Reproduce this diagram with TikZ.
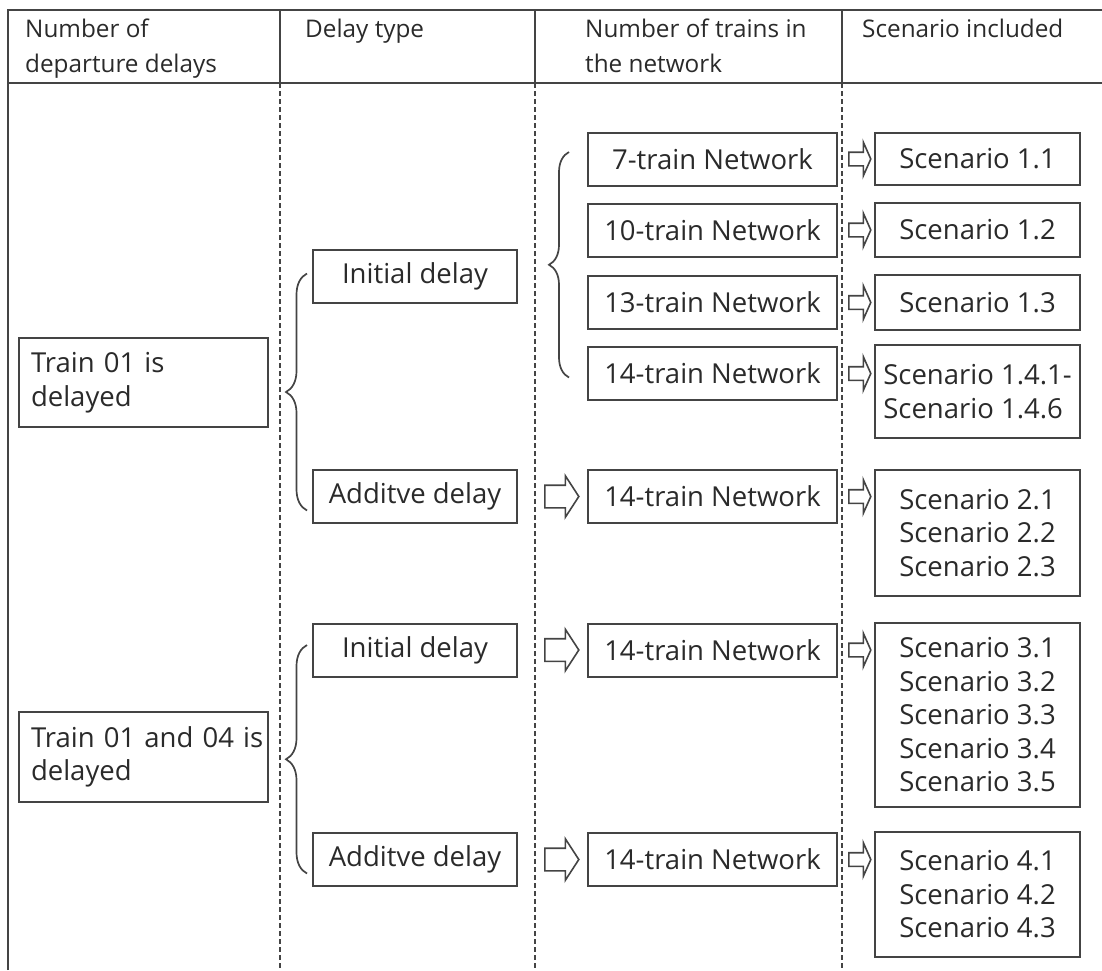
\documentclass[tikz,border=0pt]{standalone}
\usepackage{fontspec}
\setmainfont{Open Sans}
\usetikzlibrary{positioning,calc,decorations.pathreplacing,shapes.arrows}

\definecolor{inkgray}{HTML}{2A2A2A}
\definecolor{linegray}{HTML}{444444}

\newcommand{\bodyfont}{\fontsize{27.5}{33.5}\selectfont}
\newcommand{\headfont}{\fontsize{24.3}{35}\selectfont}

\tikzset{
    rule/.style={linegray, line width=2pt},
    dashrule/.style={linegray, line width=2.8pt, dash pattern=on 5pt off 3pt},
    cell/.style={draw=linegray, line width=2pt, text=inkgray, font=\bodyfont,
        inner sep=0pt, minimum height=53pt},
    delaybox/.style={cell, minimum width=204pt},
    netbox/.style={cell, minimum width=249pt},
    scenbox/.style={cell, minimum width=205pt, align=left},
    trainbox/.style={cell, minimum width=249pt, inner xsep=12pt, text width=225pt, align=left},
    headtext/.style={anchor=north west, align=left, font=\headfont, text=inkgray, inner sep=0pt},
    curly/.style={draw=linegray, line width=1.7pt, decorate,
        decoration={brace, amplitude=#1}},
    bigarrow/.style={single arrow, draw=linegray, line width=1.6pt, fill=white,
        inner sep=10.5pt, single arrow head extend=9.5pt, single arrow tip angle=114,
        minimum height=34pt},
    smallarrow/.style={single arrow, draw=linegray, line width=1.6pt, fill=white,
        inner sep=6pt, single arrow head extend=10pt, single arrow tip angle=132,
        minimum height=22pt}
}

\begin{document}
\begin{tikzpicture}[x=1pt, y=-1pt]

    \useasboundingbox (0,0) rectangle (1102,970);

    % Table frame
    \draw[rule] (8,970) -- (8,10) -- (1102,10);
    \draw[rule] (8,83) -- (1102,83);
    \foreach \x in {280,535,842} {
        \draw[rule] (\x,10) -- (\x,83);
        \draw[dashrule] (\x,83) -- (\x,970);
    }

    % Header
    \node[headtext] (hdep) at (25,19) {Number of\\departure delays};
    \node[headtext] (htype) at (305,19) {Delay type};
    \node[headtext] (hnet) at (585,19) {Number of trains in\\the network};
    \node[headtext] (hscen) at (862,19) {Scenario included};

    % Departure delays
    \node[trainbox, minimum height=89pt] (train1) at (143.5,382.5) {Train 01 is\\delayed};
    \node[trainbox, minimum height=90pt] (train14) at (143.5,757) {\mbox{Train 01 and 04 is}\\delayed};

    % Delay types
    \node[delaybox] (init1) at (415,276.5) {Initial delay};
    \node[delaybox] (add1) at (415,496.5) {Additve delay};
    \node[delaybox] (init2) at (415,650) {Initial delay};
    \node[delaybox] (add2) at (415,859.5) {Additve delay};

    % Networks
    \node[netbox] (net7) at (712.5,159) {7-train Network};
    \node[netbox] (net10) at (712.5,230) {10-train Network};
    \node[netbox] (net13) at (712.5,302.5) {13-train Network};
    \node[netbox] (net14a) at (712.5,373.5) {14-train Network};
    \node[netbox] (net14b) at (712.5,496.5) {14-train Network};
    \node[netbox] (net14c) at (712.5,650) {14-train Network};
    \node[netbox] (net14d) at (712.5,859.5) {14-train Network};

    % Scenarios
    \node[scenbox, minimum height=52pt] (sc11) at (977.5,159) {Scenario 1.1};
    \node[scenbox, minimum height=54pt] (sc12) at (977.5,230) {Scenario 1.2};
    \node[scenbox, minimum height=55pt] (sc13) at (977.5,302.5) {Scenario 1.3};
    \node[scenbox, minimum height=93pt] (sc14) at (977.5,391.5) {Scenario 1.4.1-\\Scenario 1.4.6};
    \node[scenbox, minimum height=126pt] (sc2) at (977.5,533) {Scenario 2.1\\Scenario 2.2\\Scenario 2.3};
    \node[scenbox, minimum height=184pt] (sc3) at (977.5,715) {Scenario 3.1\\Scenario 3.2\\Scenario 3.3\\Scenario 3.4\\Scenario 3.5};
    \node[scenbox, minimum height=125pt] (sc4) at (977.5,894.5) {Scenario 4.1\\Scenario 4.2\\Scenario 4.3};

    % Braces
    \draw[curly=21pt] ($(add1.west)+(-5,14)$) -- ($(init1.west)+(-5,-3)$);
    \draw[curly=21pt] ($(add2.west)+(-5,14)$) -- ($(init2.west)+(-5,-5)$);
    \draw[curly=20pt] ($(net14a.west)+(-18,4)$) -- ($(net7.west)+(-18,-7)$);

    % Block arrows
    \foreach \d in {add1,init2,add2} {
        \node[bigarrow, right=26pt of \d] (arr-\d) {};
    }
    \foreach \n in {net7,net10,net13,net14a,net14b,net14c,net14d} {
        \node[smallarrow, right=10pt of \n] (arr-\n) {};
    }

\end{tikzpicture}
\end{document}
